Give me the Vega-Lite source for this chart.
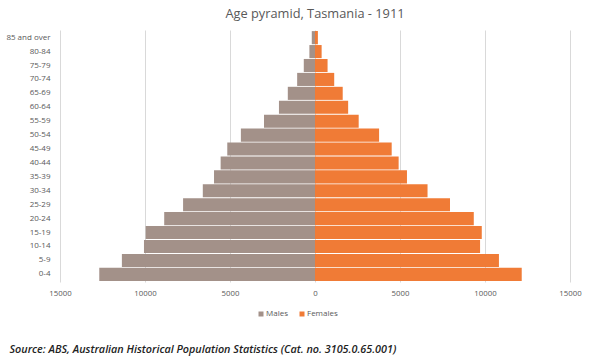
{
  "$schema": "https://vega.github.io/schema/vega-lite/v6.json",
  "background": "white",
  "autosize": {"type": "fit", "contains": "padding"},
  "width": 600,
  "height": 364,
  "padding": {"left": 5, "right": 18, "top": 8, "bottom": 10},
  "title": {
    "text": "Age pyramid, Tasmania - 1911",
    "font": "Open Sans",
    "fontSize": 12.8,
    "fontWeight": "normal",
    "color": "#595959",
    "anchor": "middle",
    "offset": 9
  },
  "data": {
    "values": [
      {"age": "85 and over", "sex": "Males", "population": -190},
      {"age": "80-84", "sex": "Males", "population": -330},
      {"age": "75-79", "sex": "Males", "population": -660},
      {"age": "70-74", "sex": "Males", "population": -1050},
      {"age": "65-69", "sex": "Males", "population": -1600},
      {"age": "60-64", "sex": "Males", "population": -2120},
      {"age": "55-59", "sex": "Males", "population": -3000},
      {"age": "50-54", "sex": "Males", "population": -4360},
      {"age": "45-49", "sex": "Males", "population": -5160},
      {"age": "40-44", "sex": "Males", "population": -5550},
      {"age": "35-39", "sex": "Males", "population": -5940},
      {"age": "30-34", "sex": "Males", "population": -6600},
      {"age": "25-29", "sex": "Males", "population": -7760},
      {"age": "20-24", "sex": "Males", "population": -8870},
      {"age": "15-19", "sex": "Males", "population": -9960},
      {"age": "10-14", "sex": "Males", "population": -10060},
      {"age": "5-9", "sex": "Males", "population": -11360},
      {"age": "0-4", "sex": "Males", "population": -12690},
      {"age": "85 and over", "sex": "Females", "population": 170},
      {"age": "80-84", "sex": "Females", "population": 390},
      {"age": "75-79", "sex": "Females", "population": 740},
      {"age": "70-74", "sex": "Females", "population": 1130},
      {"age": "65-69", "sex": "Females", "population": 1630},
      {"age": "60-64", "sex": "Females", "population": 1950},
      {"age": "55-59", "sex": "Females", "population": 2570},
      {"age": "50-54", "sex": "Females", "population": 3770},
      {"age": "45-49", "sex": "Females", "population": 4510},
      {"age": "40-44", "sex": "Females", "population": 4920},
      {"age": "35-39", "sex": "Females", "population": 5410},
      {"age": "30-34", "sex": "Females", "population": 6620},
      {"age": "25-29", "sex": "Females", "population": 7940},
      {"age": "20-24", "sex": "Females", "population": 9340},
      {"age": "15-19", "sex": "Females", "population": 9810},
      {"age": "10-14", "sex": "Females", "population": 9710},
      {"age": "5-9", "sex": "Females", "population": 10820},
      {"age": "0-4", "sex": "Females", "population": 12160}
    ]
  },
  "mark": {"type": "bar", "stroke": null},
  "encoding": {
    "y": {
      "field": "age",
      "type": "nominal",
      "sort": null,
      "scale": {"paddingInner": 0.06, "paddingOuter": 0.08},
      "axis": {
        "title": null,
        "ticks": false,
        "domain": false,
        "labelFont": "Open Sans",
        "labelFontSize": 8,
        "labelColor": "#595959",
        "labelPadding": 10,
        "minExtent": 52,
        "maxExtent": 52
      }
    },
    "x": {
      "field": "population",
      "type": "quantitative",
      "scale": {"domain": [-15000, 15000], "nice": false},
      "axis": {
        "title": "Source:  ABS, Australian Historical  Population Statistics (Cat. no. 3105.0.65.001)",
        "titleFont": "Open Sans",
        "titleFontStyle": "italic",
        "titleFontWeight": 600,
        "titleFontSize": 10.8,
        "titleColor": "#222222",
        "titleAnchor": "start",
        "titleAlign": "left",
        "titleBaseline": "alphabetic",
        "titleX": -51,
        "titleY": 70,
        "values": [-15000, -10000, -5000, 0, 5000, 10000, 15000],
        "labelExpr": "format(abs(datum.value), 'd')",
        "labelFlush": false,
        "labelOverlap": false,
        "ticks": false,
        "domain": false,
        "grid": true,
        "gridColor": "#D9D9D9",
        "gridWidth": 1,
        "labelFont": "Open Sans",
        "labelFontSize": 7.8,
        "labelColor": "#595959",
        "labelPadding": 7
      }
    },
    "color": {
      "field": "sex",
      "type": "nominal",
      "scale": {"domain": ["Males", "Females"], "range": ["#A39189", "#F07B36"]},
      "legend": {
        "title": null,
        "orient": "none",
        "legendX": 197,
        "legendY": 280,
        "direction": "horizontal",
        "symbolType": "square",
        "symbolSize": 25,
        "symbolStrokeWidth": 0,
        "symbolOffset": 0,
        "labelOffset": 1,
        "labelFont": "Open Sans",
        "labelFontSize": 8,
        "labelColor": "#595959",
        "columnPadding": 10
      }
    }
  },
  "config": {"view": {"stroke": null}}
}
